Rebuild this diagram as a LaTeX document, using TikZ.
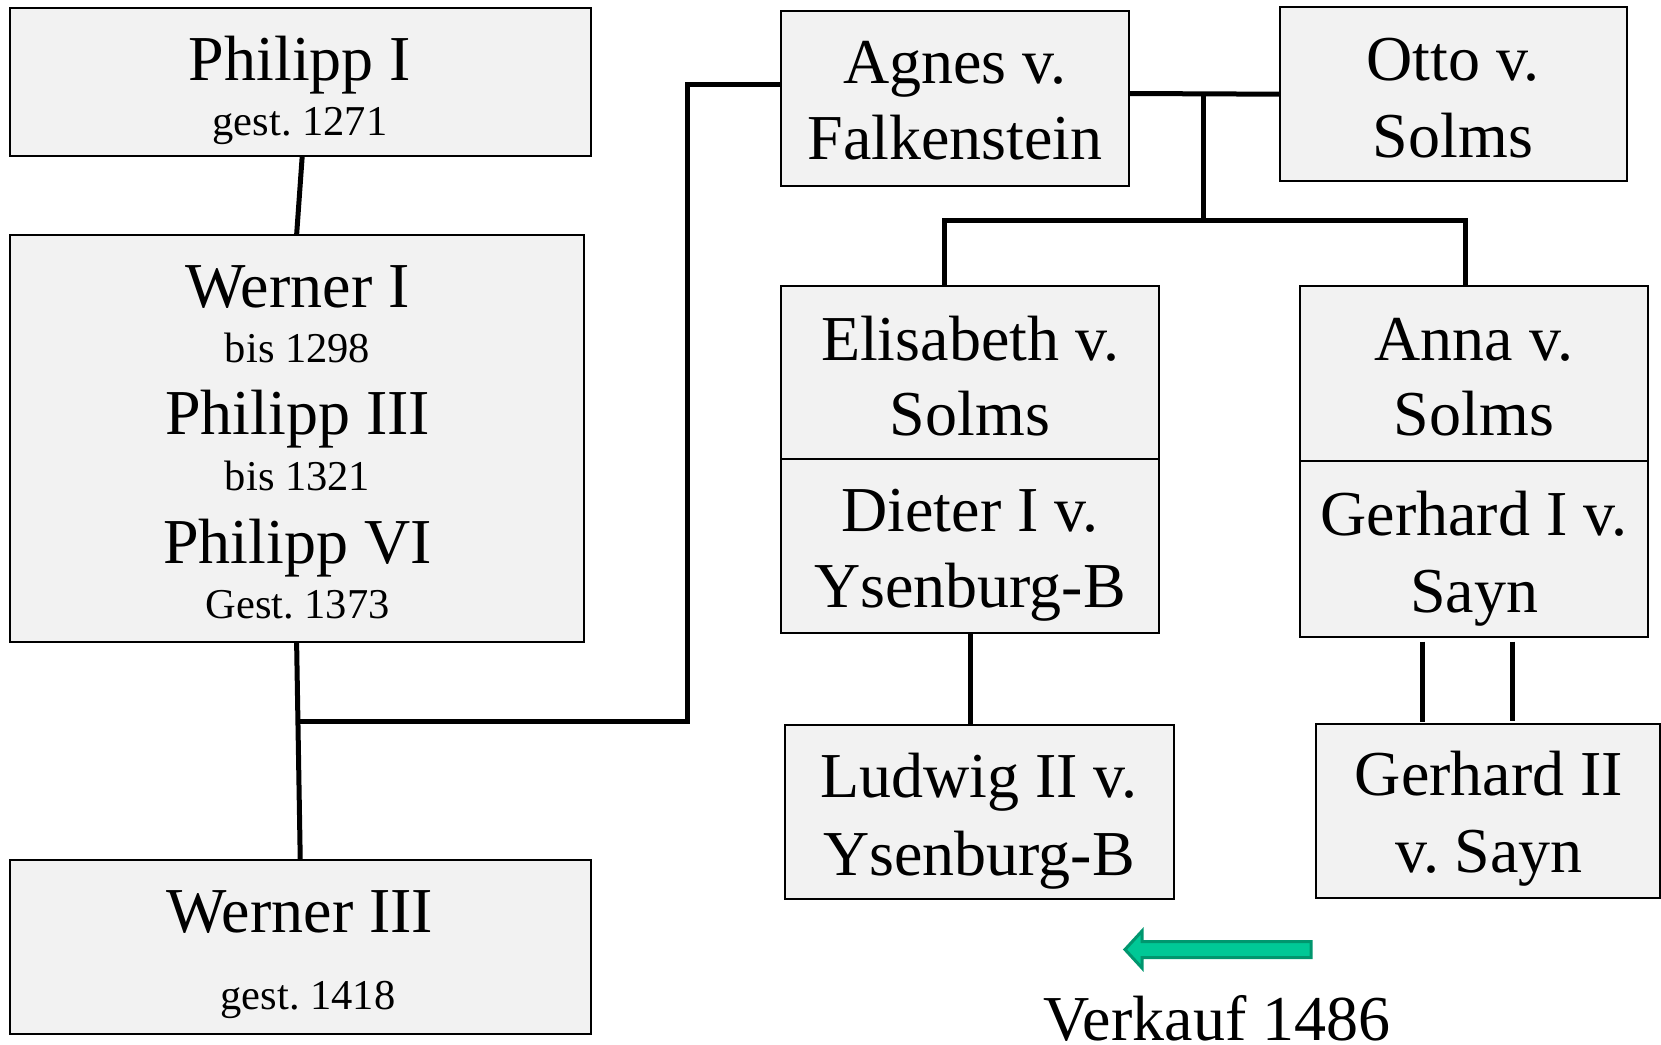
\documentclass[tikz,border=0pt]{standalone}
\usepackage{fontspec}
\setmainfont{Liberation Serif}
\frenchspacing
\definecolor{boxgray}{RGB}{242,242,242}
\definecolor{arrowfill}{RGB}{0,200,150}
\definecolor{arrowline}{RGB}{0,150,110}
\tikzset{
  box/.style={draw=black, fill=boxgray, line width=2pt, inner sep=0pt, outer sep=0pt},
  big/.style={font=\fontsize{64}{70}\selectfont, anchor=base, inner sep=0pt},
  small/.style={font=\fontsize{42.5}{48}\selectfont, anchor=base, inner sep=0pt},
  conn/.style={line width=5pt},
}
\begin{document}
\begin{tikzpicture}[x=1pt, y=-1pt]
\useasboundingbox (0,0) rectangle (1661,1044);

% boxes
\node[box, minimum width=581.5pt, minimum height=148.2pt] (p1) at (300.25,81.6) {};
\node[box, minimum width=574.2pt, minimum height=407pt] (w1) at (296.6,438.5) {};
\node[box, minimum width=581.5pt, minimum height=174pt] (w3) at (300.25,947) {};
\node[box, minimum width=348pt, minimum height=175pt] (agnes) at (955,98.5) {};
\node[box, minimum width=347.4pt, minimum height=173.6pt] (otto) at (1453.3,94.2) {};
\node[box, minimum width=378pt, minimum height=173pt] (eli) at (970,372.5) {};
\node[box, minimum width=378pt, minimum height=174pt] (dieter) at (970,546) {};
\node[box, minimum width=348pt, minimum height=175pt] (anna) at (1474,373.5) {};
\node[box, minimum width=348pt, minimum height=175.6pt] (g1) at (1474,548.8) {};
\node[box, minimum width=389pt, minimum height=174.4pt] (ludwig) at (979.5,811.8) {};
\node[box, minimum width=344pt, minimum height=174pt] (g2) at (1488,811) {};

% texts
\node[big] (p1a) at (300,80) {Philipp I};
\node[small] (p1b) at (300,135) {gest. 1271};

\node[big] (w1a) at (297.6,307) {Werner I};
\node[small] (w1b) at (297.6,362.7) {bis 1298};
\node[big] (w1c) at (297.6,434) {Philipp III};
\node[small] (w1d) at (297.6,490) {bis 1321};
\node[big] (w1e) at (297.6,563) {Philipp VI};
\node[small] (w1f) at (297.6,618.5) {Gest. 1373};

\node[big] (w3a) at (300,932) {Werner III};
\node[small] (w3b) at (308,1009) {gest. 1418};

\node[big] (aga) at (955,83) {Agnes v.};
\node[big] (agb) at (955,159) {Falkenstein};

\node[big] (ota) at (1453,80) {Otto v.};
\node[big] (otb) at (1453,157) {Solms};

\node[big] (ela) at (970,360) {Elisabeth v.};
\node[big] (elb) at (970,435) {Solms};
\node[big] (dia) at (970,531) {Dieter I v.};
\node[big] (dib) at (970,607) {Ysenburg-B};

\node[big] (ana) at (1474,360) {Anna v.};
\node[big] (anb) at (1474,435) {Solms};
\node[big] (gea) at (1474,535) {Gerhard I v.};
\node[big] (geb) at (1474,612) {Sayn};

\node[big] (lua) at (979,797) {Ludwig II v.};
\node[big] (lub) at (979,875) {Ysenburg-B};

\node[big] (gza) at (1489,795) {Gerhard II};
\node[big] (gzb) at (1489,872) {v. Sayn};

\node[big] (verk) at (1217,1040) {Verkauf 1486};

% connectors
\draw[conn] ([xshift=2pt]p1.south) -- (w1.north);
\draw[conn] (w1.south) -- (w3.north);
\coordinate (j1) at (297.5,721.4);
\coordinate (j2) at (687,721.4);
\draw[conn] (j1) -- (j2) |- ([yshift=14pt]agnes.west);
\draw[conn] ([yshift=5pt]agnes.east) -- (otto.west);
\coordinate (m1) at (1203,94);
\coordinate (m2) at (1203,220);
\draw[conn] (m1) -- (m2);
\draw[conn] ([xshift=-26pt]eli.north) -- ++(0,-66) -| ([xshift=-9pt]anna.north);
\draw[conn] (dieter.south) -- (dieter.south |- ludwig.north);
\draw[conn] ([xshift=-52pt,yshift=-5pt]g1.south) -- ++(0,80);
\draw[conn] ([xshift=38pt,yshift=-5pt]g1.south) -- ++(0,79);

% green arrow
\path[draw=arrowline, fill=arrowfill, line width=3pt, line join=miter]
  (1311,941.5) -- (1142,941.5) -- (1142,931) -- (1125,949.5) -- (1142,968)
  -- (1142,957.5) -- (1311,957.5) -- cycle;
\end{tikzpicture}
\end{document}
